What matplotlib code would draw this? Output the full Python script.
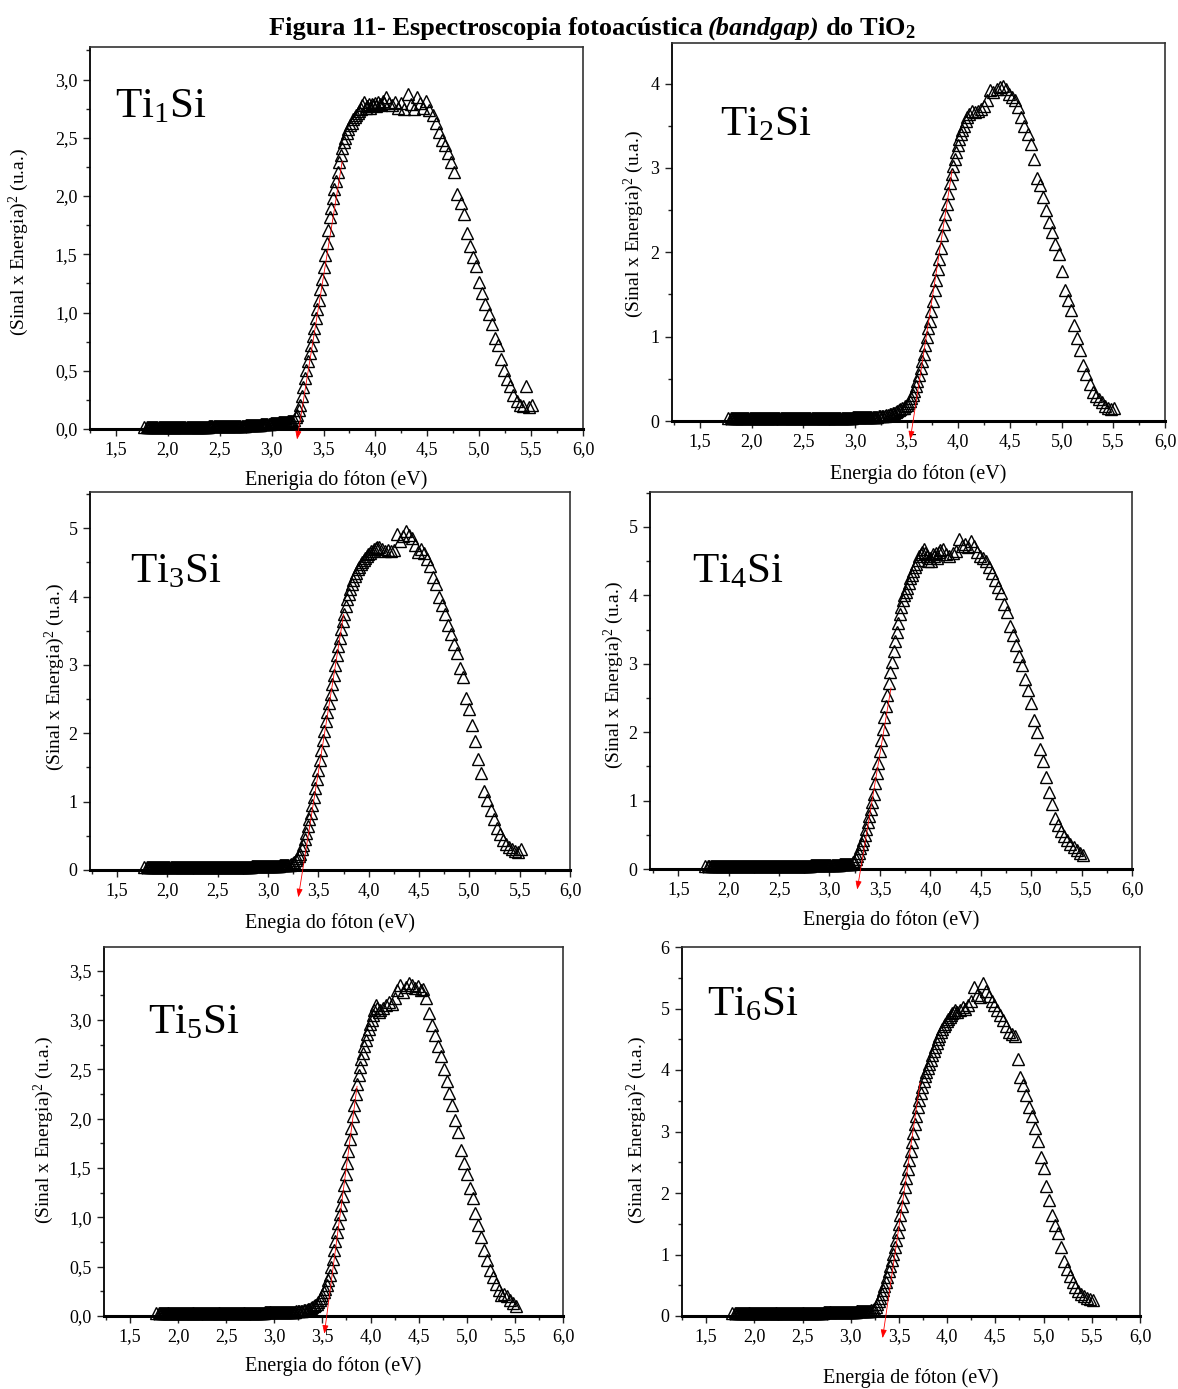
import numpy as np
import matplotlib.pyplot as plt
from matplotlib.ticker import MultipleLocator

plt.rcParams['font.family'] = 'Liberation Serif'
plt.rcParams['mathtext.fontset'] = 'custom'
plt.rcParams['mathtext.rm'] = 'Liberation Serif'
plt.rcParams['mathtext.it'] = 'Liberation Serif:italic'
plt.rcParams['mathtext.bf'] = 'Liberation Serif:bold'

# Energia do foton (eV) - mesma grade para todas as amostras
energia = [
    1.77,
    1.80, 1.81, 1.82, 1.83, 1.84, 1.85, 1.86, 1.87, 1.88, 1.89,
    1.90, 1.91, 1.92, 1.93, 1.94, 1.95, 1.96, 1.97, 1.98, 1.99,
    2.00, 2.01, 2.02, 2.03, 2.04, 2.05, 2.06, 2.07, 2.08, 2.09,
    2.10, 2.11, 2.12, 2.13, 2.14, 2.15, 2.16, 2.17, 2.18, 2.19,
    2.20, 2.21, 2.22, 2.23, 2.24, 2.25, 2.26, 2.27, 2.28, 2.29,
    2.30, 2.31, 2.32, 2.33, 2.34, 2.35, 2.36, 2.37, 2.38, 2.39,
    2.40, 2.41, 2.42, 2.43, 2.44, 2.45, 2.46, 2.47, 2.48, 2.49,
    2.50, 2.51, 2.52, 2.53, 2.54, 2.55, 2.56, 2.57, 2.58, 2.59,
    2.60, 2.61, 2.62, 2.63, 2.64, 2.65, 2.66, 2.67, 2.68, 2.69,
    2.70, 2.71, 2.72, 2.73, 2.74, 2.75, 2.76, 2.77, 2.78, 2.79,
    2.80, 2.81, 2.82, 2.83, 2.84, 2.85, 2.86, 2.87, 2.88, 2.89,
    2.90, 2.91, 2.92, 2.93, 2.94, 2.95, 2.96, 2.97, 2.98, 2.99,
    3.00, 3.01, 3.02, 3.03, 3.04, 3.05, 3.06, 3.07, 3.08, 3.09,
    3.10, 3.11, 3.12, 3.13, 3.14, 3.15, 3.16, 3.17, 3.18, 3.19,
    3.200, 3.215, 3.230, 3.245, 3.260, 3.275, 3.290, 3.305, 3.320, 3.335,
    3.350, 3.365, 3.380, 3.395, 3.410, 3.425, 3.440, 3.455, 3.470, 3.485,
    3.500, 3.515, 3.530, 3.545, 3.560, 3.575, 3.590, 3.605, 3.620, 3.635,
    3.650, 3.665, 3.680, 3.695, 3.710, 3.725, 3.740, 3.755, 3.770, 3.785,
    3.800, 3.815, 3.830, 3.845, 3.860, 3.875, 3.890, 3.905, 3.920, 3.935,
    3.950, 3.965, 3.980, 3.995, 4.010, 4.025, 4.040, 4.055, 4.070, 4.085,
    4.100,
    4.13, 4.16, 4.19, 4.22, 4.25, 4.28, 4.31, 4.34, 4.37, 4.40,
    4.43, 4.46, 4.49, 4.52, 4.55, 4.58, 4.61, 4.64, 4.67, 4.70,
    4.73, 4.76, 4.79, 4.82, 4.85, 4.88, 4.91, 4.94, 4.97, 5.00,
    5.03, 5.06, 5.09, 5.12, 5.15, 5.18, 5.21, 5.24, 5.27, 5.30,
    5.33, 5.36, 5.39, 5.42, 5.45, 5.48, 5.51,
]

# (Sinal x Energia)^2 (u.a.)
ti1si = [
    0.020,
    0.020, 0.020, 0.020, 0.020, 0.020, 0.020, 0.020, 0.020, 0.020, 0.020,
    0.020, 0.020, 0.020, 0.020, 0.020, 0.020, 0.020, 0.020, 0.020, 0.020,
    0.020, 0.020, 0.020, 0.020, 0.020, 0.020, 0.020, 0.020, 0.020, 0.020,
    0.020, 0.020, 0.020, 0.020, 0.020, 0.020, 0.020, 0.020, 0.020, 0.020,
    0.020, 0.020, 0.020, 0.020, 0.020, 0.020, 0.020, 0.020, 0.020, 0.020,
    0.021, 0.021, 0.021, 0.021, 0.021, 0.021, 0.021, 0.021, 0.021, 0.021,
    0.022, 0.022, 0.022, 0.022, 0.022, 0.022, 0.022, 0.022, 0.022, 0.022,
    0.023, 0.023, 0.023, 0.023, 0.023, 0.024, 0.024, 0.024, 0.024, 0.024,
    0.025, 0.025, 0.025, 0.026, 0.026, 0.026, 0.027, 0.027, 0.027, 0.028,
    0.028, 0.029, 0.029, 0.030, 0.030, 0.031, 0.031, 0.032, 0.032, 0.033,
    0.033, 0.034, 0.034, 0.035, 0.035, 0.036, 0.036, 0.037, 0.037, 0.038,
    0.039, 0.040, 0.041, 0.042, 0.043, 0.044, 0.045, 0.046, 0.047, 0.048,
    0.049, 0.050, 0.051, 0.052, 0.053, 0.054, 0.055, 0.056, 0.057, 0.058,
    0.059, 0.060, 0.061, 0.062, 0.063, 0.064, 0.065, 0.066, 0.068, 0.070,
    0.07, 0.08, 0.10, 0.12, 0.16, 0.21, 0.28, 0.36, 0.44, 0.51,
    0.58, 0.65, 0.72, 0.80, 0.87, 0.95, 1.03, 1.11, 1.20, 1.29,
    1.39, 1.49, 1.60, 1.71, 1.82, 1.90, 1.98, 2.06, 2.13, 2.21,
    2.29, 2.35, 2.41, 2.46, 2.50, 2.54, 2.58, 2.61, 2.63, 2.66,
    2.68, 2.70, 2.71, 2.73, 2.75, 2.78, 2.81, 2.76, 2.77, 2.79,
    2.76, 2.79, 2.78, 2.80, 2.77, 2.81, 2.79, 2.78, 2.82, 2.80,
    2.85,
    2.80, 2.78, 2.81, 2.76, 2.80, 2.75, 2.88, 2.79, 2.75, 2.85,
    2.80, 2.76, 2.82, 2.74, 2.70, 2.63, 2.55, 2.48, 2.44, 2.37,
    2.29, 2.21, 2.02, 1.94, 1.85, 1.68, 1.57, 1.48, 1.40, 1.26,
    1.17, 1.07, 0.99, 0.90, 0.78, 0.72, 0.60, 0.51, 0.43, 0.37,
    0.29, 0.24, 0.21, 0.20, 0.37, 0.19, 0.21,
]

ti2si = [
    0.030,
    0.030, 0.030, 0.030, 0.030, 0.030, 0.030, 0.030, 0.030, 0.030, 0.030,
    0.030, 0.030, 0.030, 0.030, 0.030, 0.030, 0.030, 0.030, 0.030, 0.030,
    0.030, 0.030, 0.030, 0.030, 0.030, 0.030, 0.030, 0.030, 0.030, 0.030,
    0.030, 0.030, 0.030, 0.030, 0.030, 0.030, 0.030, 0.030, 0.030, 0.030,
    0.030, 0.030, 0.030, 0.030, 0.030, 0.030, 0.030, 0.030, 0.030, 0.030,
    0.030, 0.030, 0.030, 0.030, 0.030, 0.030, 0.030, 0.030, 0.030, 0.030,
    0.031, 0.031, 0.031, 0.031, 0.031, 0.031, 0.031, 0.031, 0.031, 0.031,
    0.032, 0.032, 0.032, 0.032, 0.032, 0.032, 0.032, 0.032, 0.032, 0.032,
    0.033, 0.033, 0.033, 0.033, 0.033, 0.033, 0.033, 0.033, 0.033, 0.033,
    0.034, 0.034, 0.034, 0.034, 0.034, 0.035, 0.035, 0.035, 0.035, 0.035,
    0.036, 0.036, 0.036, 0.037, 0.037, 0.037, 0.038, 0.038, 0.038, 0.039,
    0.039, 0.039, 0.040, 0.040, 0.040, 0.041, 0.041, 0.041, 0.042, 0.042,
    0.042, 0.043, 0.043, 0.044, 0.044, 0.045, 0.045, 0.045, 0.046, 0.046,
    0.046, 0.047, 0.047, 0.047, 0.048, 0.048, 0.048, 0.049, 0.049, 0.050,
    0.050, 0.050, 0.055, 0.055, 0.060, 0.060, 0.065, 0.070, 0.075, 0.080,
    0.085, 0.090, 0.100, 0.110, 0.120, 0.130, 0.140, 0.150, 0.160, 0.180,
    0.19, 0.21, 0.24, 0.27, 0.31, 0.36, 0.42, 0.48, 0.55, 0.63,
    0.71, 0.80, 0.90, 1.00, 1.10, 1.19, 1.30, 1.42, 1.55, 1.67,
    1.80, 1.92, 2.05, 2.20, 2.33, 2.45, 2.57, 2.70, 2.82, 2.93,
    3.02, 3.10, 3.19, 3.27, 3.34, 3.40, 3.45, 3.50, 3.55, 3.60,
    3.64,
    3.67, 3.66, 3.68, 3.70, 3.73, 3.80, 3.92, 3.90, 3.93, 3.96,
    3.97, 3.93, 3.87, 3.84, 3.80, 3.72, 3.60, 3.50, 3.40, 3.28,
    3.10, 2.88, 2.80, 2.65, 2.50, 2.36, 2.24, 2.10, 1.98, 1.78,
    1.55, 1.44, 1.32, 1.14, 0.98, 0.84, 0.66, 0.56, 0.44, 0.34,
    0.30, 0.26, 0.22, 0.18, 0.16, 0.14, 0.15,
]

ti3si = [
    0.040,
    0.040, 0.040, 0.040, 0.040, 0.040, 0.040, 0.040, 0.040, 0.040, 0.040,
    0.040, 0.040, 0.040, 0.040, 0.040, 0.040, 0.040, 0.040, 0.040, 0.040,
    0.040, 0.040, 0.040, 0.040, 0.040, 0.040, 0.040, 0.040, 0.040, 0.040,
    0.040, 0.040, 0.040, 0.040, 0.040, 0.040, 0.040, 0.040, 0.040, 0.040,
    0.040, 0.040, 0.040, 0.040, 0.040, 0.040, 0.040, 0.040, 0.040, 0.040,
    0.040, 0.040, 0.040, 0.040, 0.040, 0.040, 0.040, 0.040, 0.040, 0.040,
    0.040, 0.040, 0.040, 0.040, 0.040, 0.040, 0.040, 0.040, 0.040, 0.040,
    0.041, 0.041, 0.041, 0.041, 0.041, 0.042, 0.042, 0.042, 0.042, 0.042,
    0.043, 0.043, 0.043, 0.044, 0.044, 0.044, 0.045, 0.045, 0.045, 0.046,
    0.046, 0.046, 0.047, 0.047, 0.047, 0.048, 0.048, 0.048, 0.049, 0.049,
    0.050, 0.050, 0.051, 0.051, 0.052, 0.052, 0.053, 0.053, 0.054, 0.054,
    0.055, 0.055, 0.056, 0.056, 0.057, 0.057, 0.058, 0.058, 0.059, 0.059,
    0.060, 0.060, 0.061, 0.061, 0.062, 0.062, 0.063, 0.063, 0.064, 0.064,
    0.065, 0.065, 0.066, 0.066, 0.067, 0.067, 0.068, 0.068, 0.069, 0.069,
    0.07, 0.08, 0.09, 0.10, 0.12, 0.14, 0.17, 0.20, 0.24, 0.30,
    0.37, 0.45, 0.54, 0.64, 0.74, 0.84, 0.95, 1.07, 1.20, 1.33,
    1.47, 1.61, 1.76, 1.90, 2.04, 2.18, 2.31, 2.44, 2.58, 2.72,
    2.86, 3.00, 3.14, 3.27, 3.40, 3.52, 3.64, 3.75, 3.86, 3.96,
    4.04, 4.11, 4.18, 4.24, 4.30, 4.35, 4.40, 4.44, 4.48, 4.51,
    4.54, 4.57, 4.60, 4.62, 4.64, 4.66, 4.67, 4.69, 4.71, 4.73,
    4.72,
    4.70, 4.67, 4.68, 4.66, 4.68, 4.92, 4.82, 4.88, 4.96, 4.90,
    4.86, 4.76, 4.65, 4.70, 4.64, 4.55, 4.45, 4.28, 4.18, 4.00,
    3.88, 3.75, 3.58, 3.45, 3.30, 3.18, 2.96, 2.82, 2.52, 2.35,
    2.12, 1.88, 1.62, 1.42, 1.15, 1.02, 0.88, 0.74, 0.62, 0.52,
    0.44, 0.38, 0.34, 0.30, 0.28, 0.26, 0.30,
]

ti4si = [
    0.040,
    0.040, 0.040, 0.040, 0.040, 0.040, 0.040, 0.040, 0.040, 0.040, 0.040,
    0.040, 0.040, 0.040, 0.040, 0.040, 0.040, 0.040, 0.040, 0.040, 0.040,
    0.040, 0.040, 0.040, 0.040, 0.040, 0.040, 0.040, 0.040, 0.040, 0.040,
    0.040, 0.040, 0.040, 0.040, 0.040, 0.040, 0.040, 0.040, 0.040, 0.040,
    0.040, 0.040, 0.040, 0.040, 0.040, 0.040, 0.040, 0.040, 0.040, 0.040,
    0.040, 0.040, 0.040, 0.040, 0.040, 0.040, 0.040, 0.040, 0.040, 0.040,
    0.040, 0.040, 0.040, 0.040, 0.040, 0.041, 0.041, 0.041, 0.041, 0.041,
    0.042, 0.042, 0.042, 0.042, 0.042, 0.043, 0.043, 0.043, 0.043, 0.043,
    0.044, 0.044, 0.044, 0.045, 0.045, 0.045, 0.046, 0.046, 0.046, 0.047,
    0.047, 0.047, 0.048, 0.048, 0.048, 0.049, 0.049, 0.049, 0.050, 0.050,
    0.051, 0.051, 0.052, 0.052, 0.053, 0.053, 0.054, 0.054, 0.055, 0.055,
    0.056, 0.056, 0.057, 0.057, 0.058, 0.058, 0.059, 0.059, 0.060, 0.060,
    0.061, 0.061, 0.062, 0.062, 0.063, 0.063, 0.064, 0.064, 0.065, 0.065,
    0.066, 0.066, 0.067, 0.067, 0.068, 0.068, 0.069, 0.069, 0.070, 0.070,
    0.07, 0.08, 0.10, 0.12, 0.15, 0.19, 0.24, 0.30, 0.36, 0.42,
    0.50, 0.58, 0.68, 0.78, 0.88, 0.98, 1.10, 1.25, 1.40, 1.55,
    1.72, 1.88, 2.05, 2.22, 2.38, 2.55, 2.72, 2.88, 3.03, 3.18,
    3.33, 3.47, 3.60, 3.72, 3.83, 3.93, 4.00, 4.05, 4.10, 4.18,
    4.25, 4.30, 4.36, 4.41, 4.46, 4.52, 4.57, 4.60, 4.63, 4.68,
    4.62, 4.58, 4.50, 4.55, 4.50, 4.60, 4.58, 4.62, 4.55, 4.64,
    4.66,
    4.68, 4.60, 4.58, 4.62, 4.65, 4.82, 4.72, 4.75, 4.70, 4.80,
    4.72, 4.64, 4.58, 4.55, 4.50, 4.42, 4.32, 4.22, 4.12, 4.03,
    3.88, 3.75, 3.55, 3.42, 3.28, 3.12, 2.98, 2.78, 2.62, 2.42,
    2.18, 2.00, 1.76, 1.58, 1.35, 1.12, 0.95, 0.75, 0.64, 0.56,
    0.48, 0.42, 0.37, 0.32, 0.28, 0.24, 0.21,
]

ti5si = [
    0.030,
    0.030, 0.030, 0.030, 0.030, 0.030, 0.030, 0.030, 0.030, 0.030, 0.030,
    0.030, 0.030, 0.030, 0.030, 0.030, 0.030, 0.030, 0.030, 0.030, 0.030,
    0.030, 0.030, 0.030, 0.030, 0.030, 0.030, 0.030, 0.030, 0.030, 0.030,
    0.030, 0.030, 0.030, 0.030, 0.030, 0.030, 0.030, 0.030, 0.030, 0.030,
    0.030, 0.030, 0.030, 0.030, 0.030, 0.030, 0.030, 0.030, 0.030, 0.030,
    0.030, 0.030, 0.030, 0.030, 0.030, 0.030, 0.030, 0.030, 0.030, 0.030,
    0.030, 0.030, 0.030, 0.030, 0.030, 0.030, 0.030, 0.030, 0.030, 0.030,
    0.031, 0.031, 0.031, 0.031, 0.031, 0.031, 0.031, 0.031, 0.031, 0.031,
    0.032, 0.032, 0.032, 0.032, 0.032, 0.032, 0.032, 0.032, 0.032, 0.032,
    0.033, 0.033, 0.033, 0.033, 0.033, 0.033, 0.033, 0.033, 0.033, 0.033,
    0.034, 0.034, 0.034, 0.034, 0.034, 0.035, 0.035, 0.035, 0.035, 0.035,
    0.036, 0.036, 0.036, 0.036, 0.036, 0.037, 0.037, 0.037, 0.037, 0.037,
    0.038, 0.038, 0.038, 0.039, 0.039, 0.039, 0.040, 0.040, 0.040, 0.041,
    0.041, 0.041, 0.042, 0.042, 0.042, 0.043, 0.043, 0.043, 0.044, 0.044,
    0.045, 0.045, 0.050, 0.050, 0.050, 0.055, 0.055, 0.060, 0.060, 0.065,
    0.070, 0.075, 0.080, 0.090, 0.100, 0.110, 0.120, 0.140, 0.160, 0.180,
    0.21, 0.24, 0.27, 0.31, 0.36, 0.42, 0.50, 0.58, 0.67, 0.76,
    0.85, 0.94, 1.03, 1.12, 1.22, 1.33, 1.44, 1.55, 1.67, 1.79,
    1.91, 2.03, 2.14, 2.25, 2.35, 2.44, 2.52, 2.60, 2.67, 2.74,
    2.80, 2.86, 2.91, 2.96, 3.00, 3.05, 3.10, 3.15, 3.12, 3.08,
    3.10,
    3.12, 3.15, 3.18, 3.16, 3.22, 3.30, 3.35, 3.28, 3.33, 3.38,
    3.35, 3.32, 3.34, 3.30, 3.31, 3.22, 3.07, 2.95, 2.85, 2.74,
    2.64, 2.50, 2.38, 2.26, 2.14, 1.99, 1.86, 1.68, 1.55, 1.44,
    1.30, 1.20, 1.04, 0.92, 0.80, 0.67, 0.57, 0.47, 0.40, 0.32,
    0.26, 0.21, 0.22, 0.20, 0.16, 0.13, 0.10,
]

ti6si = [
    0.045,
    0.045, 0.045, 0.045, 0.045, 0.045, 0.045, 0.045, 0.045, 0.045, 0.045,
    0.045, 0.045, 0.045, 0.045, 0.045, 0.045, 0.045, 0.045, 0.045, 0.045,
    0.045, 0.045, 0.045, 0.045, 0.045, 0.045, 0.045, 0.045, 0.045, 0.045,
    0.045, 0.045, 0.045, 0.045, 0.045, 0.045, 0.045, 0.045, 0.045, 0.045,
    0.045, 0.045, 0.045, 0.045, 0.045, 0.045, 0.045, 0.045, 0.045, 0.045,
    0.045, 0.045, 0.045, 0.045, 0.045, 0.045, 0.045, 0.045, 0.045, 0.045,
    0.045, 0.045, 0.045, 0.045, 0.045, 0.045, 0.045, 0.045, 0.045, 0.045,
    0.046, 0.046, 0.047, 0.047, 0.048, 0.048, 0.049, 0.049, 0.050, 0.050,
    0.051, 0.051, 0.052, 0.052, 0.053, 0.053, 0.054, 0.054, 0.055, 0.055,
    0.056, 0.056, 0.057, 0.057, 0.058, 0.058, 0.059, 0.059, 0.060, 0.060,
    0.061, 0.061, 0.062, 0.062, 0.063, 0.063, 0.064, 0.064, 0.065, 0.065,
    0.066, 0.066, 0.067, 0.067, 0.068, 0.068, 0.069, 0.069, 0.070, 0.070,
    0.071, 0.071, 0.072, 0.072, 0.073, 0.073, 0.074, 0.074, 0.075, 0.075,
    0.076, 0.076, 0.077, 0.077, 0.078, 0.078, 0.079, 0.079, 0.080, 0.080,
    0.08, 0.09, 0.10, 0.12, 0.15, 0.19, 0.24, 0.30, 0.36, 0.42,
    0.49, 0.56, 0.64, 0.73, 0.82, 0.91, 1.01, 1.12, 1.24, 1.37,
    1.50, 1.64, 1.79, 1.94, 2.09, 2.24, 2.39, 2.54, 2.68, 2.83,
    2.97, 3.12, 3.26, 3.40, 3.52, 3.63, 3.73, 3.82, 3.90, 3.97,
    4.03, 4.10, 4.17, 4.24, 4.31, 4.38, 4.44, 4.50, 4.56, 4.61,
    4.66, 4.71, 4.75, 4.79, 4.83, 4.86, 4.89, 4.92, 4.95, 4.98,
    4.95,
    4.98, 5.02, 5.00, 5.05, 5.12, 5.35, 5.22, 5.18, 5.42, 5.28,
    5.20, 5.12, 5.05, 4.98, 4.90, 4.82, 4.72, 4.62, 4.58, 4.55,
    4.18, 3.88, 3.75, 3.60, 3.40, 3.25, 3.05, 2.85, 2.58, 2.40,
    2.12, 1.88, 1.65, 1.48, 1.35, 1.12, 0.90, 0.76, 0.65, 0.55,
    0.47, 0.40, 0.35, 0.32, 0.30, 0.28, 0.26,
]

amostras = ['Ti$_1$Si', 'Ti$_2$Si', 'Ti$_3$Si', 'Ti$_4$Si', 'Ti$_5$Si', 'Ti$_6$Si']
series = [ti1si, ti2si, ti3si, ti4si, ti5si, ti6si]
rotulos_x = ['Enerigia do fóton (eV)', 'Energia do fóton (eV)', 'Enegia do fóton (eV)',
             'Energia do fóton (eV)', 'Energia do fóton (eV)', 'Energia de fóton (eV)']
rotulo_y = '(Sinal x Energia)$^2$ (u.a.)'

# ticks do eixo y: maior valor e passo
y_tick_max = [3.0, 4, 5, 5, 3.5, 6]
y_tick_passo = [0.5, 1, 1, 1, 0.5, 1]
y_decimal = [True, False, False, False, True, False]
x_ticks = [1.5, 2.0, 2.5, 3.0, 3.5, 4.0, 4.5, 5.0, 5.5, 6.0]

# retas tangentes (bandgap): ponto superior e ponta da seta
tang_x0 = [3.68, 3.94, 3.75, 3.61, 3.86, 3.72]
tang_y0 = [2.30, 2.97, 3.74, 2.65, 2.33, 3.80]
tang_x1 = [3.245, 3.535, 3.30, 3.275, 3.52, 3.33]
tang_y1 = [-0.09, -0.22, -0.40, -0.30, -0.18, -0.36]

assert all(len(s) == len(energia) for s in series)

# layout (pixels: esquerda, topo, direita, base)
W, H = 1178, 1389
caixas = [(90, 47, 583, 429), (672, 43, 1165, 421),
          (90, 492, 570, 870), (650, 492, 1132, 869),
          (104, 947, 563, 1316), (682, 947, 1140, 1316)]
y_lim = [3.28, 4.48, 5.53, 5.51, 3.74, 6.0]
x_min = [1.25, 1.23, 1.23, 1.22, 1.23, 1.25]
ylab_x = [-0.12, -0.053, -0.048, -0.05, -0.105, -0.072]
ylab_y = [0.49, 0.52, 0.51, 0.515, 0.504, 0.504]
xlab_y = [-0.108, -0.113, -0.113, -0.109, -0.109, -0.141]
nome_pos = [(0.051, 0.817), (0.097, 0.755), (0.083, 0.762),
            (0.087, 0.761), (0.096, 0.767), (0.055, 0.816)]

fig = plt.figure(figsize=(W / 100, H / 100), dpi=100)

for i in range(6):
    l, t, r, b = caixas[i]
    ax = fig.add_axes([l / W, 1 - b / H, (r - l) / W, (b - t) / H])
    ax.plot(energia, series[i], ls='none', marker='^', ms=8, mfc='none',
            mec='black', mew=1.0, clip_on=False, zorder=3)
    ax.annotate('', xy=(tang_x1[i], tang_y1[i]), xytext=(tang_x0[i], tang_y0[i]),
                arrowprops=dict(arrowstyle='-|>,head_length=0.5,head_width=0.18',
                                color='red', lw=0.6, shrinkA=0, shrinkB=0),
                annotation_clip=False, zorder=5)

    ax.set_xlim(x_min[i], 6.0)
    ax.set_ylim(0, y_lim[i])
    ax.set_xticks(x_ticks)
    ax.set_xticklabels([f'{v:.1f}'.replace('.', ',') for v in x_ticks])
    ax.xaxis.set_minor_locator(MultipleLocator(0.25))
    yt = np.arange(0, y_tick_max[i] + 1e-6, y_tick_passo[i])
    ax.set_yticks(yt)
    if y_decimal[i]:
        ax.set_yticklabels([f'{v:.1f}'.replace('.', ',') for v in yt])
    else:
        ax.set_yticklabels([str(int(round(v))) for v in yt])
    ax.yaxis.set_minor_locator(MultipleLocator(y_tick_passo[i] / 2))

    ax.tick_params(which='both', direction='out', top=False, right=False,
                   labelsize=13, width=1, color='#222222')
    ax.tick_params(which='major', length=5, pad=4)
    ax.tick_params(which='minor', length=3)
    ax.spines['bottom'].set_linewidth(2.2)
    ax.spines['left'].set_linewidth(1.3)
    for s in ['top', 'right']:
        ax.spines[s].set_linewidth(1.2)
        ax.spines[s].set_color('#333333')

    ax.set_xlabel(rotulos_x[i], fontsize=14.5)
    ax.xaxis.set_label_coords(0.5, xlab_y[i])
    ax.set_ylabel(rotulo_y, fontsize=14)
    ax.yaxis.set_label_coords(ylab_x[i], ylab_y[i])
    ax.text(nome_pos[i][0], nome_pos[i][1], amostras[i], transform=ax.transAxes,
            fontsize=31, ha='left', va='baseline')

# titulo com trecho em italico
partes = [('Figura 11- Espectroscopia fotoacústica', 'normal'),
          ('(bandgap)', 'italic'),
          ('do TiO$_\\mathbf{2}$', 'normal')]
renderer = fig.canvas.get_renderer()
textos = []
larguras = []
for s, estilo in partes:
    tx = fig.text(0, 1 - 35 / H, s, fontsize=19, fontweight='bold', style=estilo,
                  ha='left', va='baseline')
    textos.append(tx)
    larguras.append(tx.get_window_extent(renderer).width)
espaco = 5.5
total = sum(larguras) + espaco * (len(partes) - 1)
x = 592 - total / 2
for tx, w in zip(textos, larguras):
    tx.set_x(x / W)
    x += w + espaco

fig.savefig('out.png', dpi=100)
